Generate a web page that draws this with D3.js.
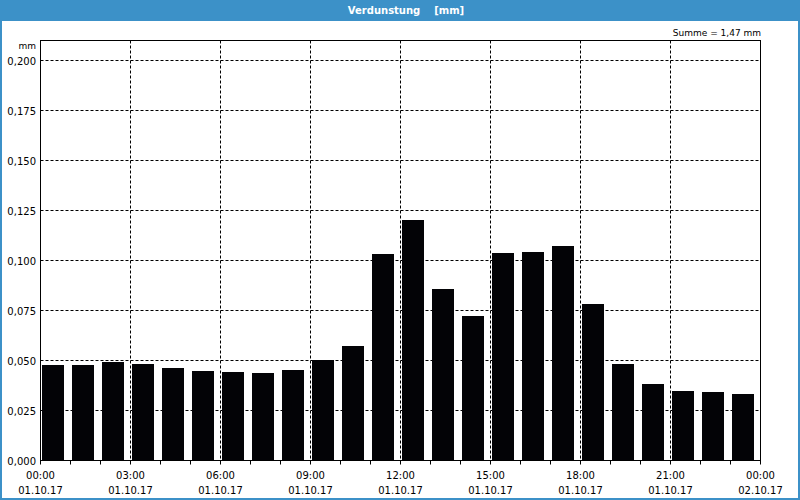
<!DOCTYPE html>
<html><head><meta charset="utf-8">
<script src="https://cdn.jsdelivr.net/npm/d3@7"></script>
<style>html,body{margin:0;padding:0;background:#fff;}svg{display:block;}</style>
</head><body>
<script>
const title = "Verdunstung    [mm]";
const unit = "mm";
const sumLabel = "Summe = 1,47 mm";
const hours = d3.range(0, 24);
const values = [0.0475,0.0475,0.049,0.048,0.046,0.0445,0.044,0.0435,0.045,0.050,0.057,0.103,
                0.120,0.0855,0.072,0.1035,0.104,0.107,0.078,0.048,0.038,0.0345,0.034,0.033];
const yTicks = [0,0.025,0.05,0.075,0.1,0.125,0.15,0.175,0.2];
const xTickHours = [0,3,6,9,12,15,18,21,24];
const xTimeLabels = ["00:00","03:00","06:00","09:00","12:00","15:00","18:00","21:00","00:00"];
const xDateLabels = ["01.10.17","01.10.17","01.10.17","01.10.17","01.10.17","01.10.17","01.10.17","01.10.17","02.10.17"];

const W=800,H=500, blue="#3c91c8";
const font="DejaVu Sans";
const svg=d3.select("body").append("svg").attr("width",W).attr("height",H);
svg.append("rect").attr("width",W).attr("height",H).attr("fill","#fff");
// window border
svg.append("rect").attr("x",1).attr("y",1).attr("width",W-2).attr("height",H-2)
  .attr("fill","none").attr("stroke",blue).attr("stroke-width",2);
svg.append("rect").attr("x",0).attr("y",0).attr("width",W).attr("height",21).attr("fill",blue);
svg.append("text").attr("x",406).attr("y",14).attr("text-anchor","middle")
  .attr("font-family",font).attr("font-weight","bold").attr("font-size",10).attr("fill","#fff")
  .attr("xml:space","preserve").style("white-space","pre").text(title);

const L=40.5,R=760.5,T=40.5,B=460.5;
const x=d3.scaleLinear().domain([0,24]).range([L,R]);
const y=d3.scaleLinear().domain([0,0.2]).range([B,60.5]);

const g=svg.append("g");
// grid
g.selectAll(".hg").data(yTicks.filter(d=>d>0)).join("line")
  .attr("x1",L).attr("x2",R).attr("y1",d=>y(d)).attr("y2",d=>y(d))
  .attr("stroke","#000").attr("stroke-dasharray","3,2");
g.selectAll(".vg").data(xTickHours.filter(d=>d>0&&d<24)).join("line")
  .attr("x1",d=>x(d)).attr("x2",d=>x(d)).attr("y1",T).attr("y2",B)
  .attr("stroke","#000").attr("stroke-dasharray","3,2");
// bars
g.selectAll(".bar").data(values).join("rect")
  .attr("x",(d,i)=>x(hours[i])+1.5).attr("width",22)
  .attr("y",d=>Math.round(y(d)-0.5)).attr("height",d=>B-0.5-Math.round(y(d)-0.5))
  .attr("fill","#030306");
// frame
g.append("rect").attr("x",L).attr("y",T).attr("width",R-L).attr("height",B-T)
  .attr("fill","none").attr("stroke","#000");
// hour ticks
g.selectAll(".tk").data(d3.range(0,25)).join("line")
  .attr("x1",d=>x(d)).attr("x2",d=>x(d)).attr("y1",B).attr("y2",B+4).attr("stroke","#000");
// y labels
g.selectAll(".yl").data(yTicks).join("text")
  .attr("x",36).attr("y",d=>y(d)+4).attr("text-anchor","end")
  .attr("font-family",font).attr("font-size",10).attr("fill","#000")
  .text(d=>d3.format(".3f")(d).replace(".",","));
svg.append("text").attr("x",36).attr("y",49).attr("text-anchor","end")
  .attr("font-family",font).attr("font-size",9).text(unit);
svg.append("text").attr("x",761).attr("y",36).attr("text-anchor","end")
  .attr("font-family",font).attr("font-size",9).text(sumLabel);
// x labels
g.selectAll(".xt").data(xTickHours).join("text")
  .attr("x",d=>x(d)).attr("y",479).attr("text-anchor","middle")
  .attr("font-family",font).attr("font-size",10).text((d,i)=>xTimeLabels[i]);
g.selectAll(".xd").data(xTickHours).join("text")
  .attr("x",d=>x(d)).attr("y",494).attr("text-anchor","middle")
  .attr("font-family",font).attr("font-size",10).text((d,i)=>xDateLabels[i]);
</script>
</body></html>
